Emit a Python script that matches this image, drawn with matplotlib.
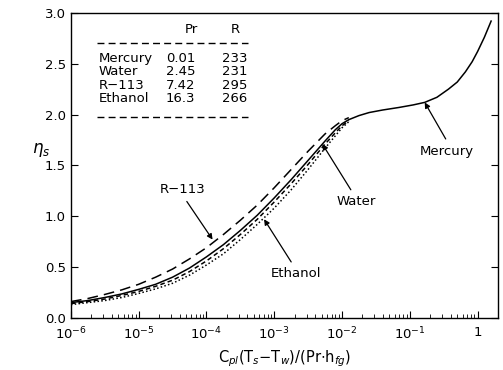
import numpy as np
import matplotlib
matplotlib.use("Agg")
import matplotlib.pyplot as plt

# data (log10 of abscissa, eta_s)
logx_common = [-6.0, -5.75, -5.5, -5.25, -5.0, -4.75, -4.5, -4.25, -4.0, -3.75,
               -3.5, -3.25, -3.0, -2.75, -2.5, -2.25, -2.1, -2.0, -1.9]
mercury_logx = [-6.0, -5.75, -5.5, -5.25, -5.0, -4.75, -4.5, -4.25, -4.0, -3.75,
                -3.5, -3.25, -3.0, -2.75, -2.5, -2.25, -2.1, -2.0, -1.9, -1.75,
                -1.6, -1.4, -1.16, -0.95, -0.78, -0.6, -0.43, -0.3, -0.18, -0.08,
                0.0, 0.1, 0.2]
mercury_eta = [0.15, 0.17, 0.20, 0.235, 0.28, 0.33, 0.40, 0.49, 0.60, 0.72,
               0.86, 1.01, 1.18, 1.36, 1.55, 1.74, 1.85, 1.91, 1.95, 1.99,
               2.02, 2.045, 2.07, 2.095, 2.12, 2.17, 2.25, 2.32, 2.42, 2.52,
               2.62, 2.76, 2.92]
r113_eta = [0.16, 0.19, 0.23, 0.275, 0.33, 0.40, 0.48, 0.58, 0.69, 0.82,
            0.96, 1.11, 1.28, 1.46, 1.64, 1.81, 1.89, 1.94, 1.97]
water_eta = [0.14, 0.16, 0.185, 0.22, 0.26, 0.31, 0.37, 0.455, 0.56, 0.68,
             0.82, 0.97, 1.14, 1.32, 1.51, 1.71, 1.82, 1.89, 1.94]
ethanol_eta = [0.13, 0.15, 0.17, 0.20, 0.24, 0.285, 0.34, 0.42, 0.52, 0.63,
               0.77, 0.92, 1.08, 1.26, 1.46, 1.67, 1.79, 1.87, 1.93]

fluids = ["Mercury", "Water", "R\u2212113", "Ethanol"]
pr_vals = ["0.01", "2.45", "7.42", "16.3"]
r_vals = ["233", "231", "295", "266"]

xtick_vals = [1e-6, 1e-5, 1e-4, 1e-3, 1e-2, 1e-1, 1]
xtick_labels = [r"10$^{-6}$", r"10$^{-5}$", r"10$^{-4}$", r"10$^{-3}$",
                r"10$^{-2}$", r"10$^{-1}$", "1"]

plt.rcParams['font.family'] = ['DejaVu Sans']
fig = plt.figure(figsize=(5.03, 3.70), dpi=100)
ax = fig.add_axes([0.141, 0.141, 0.849, 0.824])

ax.plot(10 ** np.array(mercury_logx), mercury_eta, color='black', lw=1.1, ls='-')
ax.plot(10 ** np.array(logx_common), r113_eta, color='black', lw=1.1, ls=(0, (7, 4)))
ax.plot(10 ** np.array(logx_common), water_eta, color='black', lw=1.1, ls=(0, (3, 2)))
ax.plot(10 ** np.array(logx_common), ethanol_eta, color='black', lw=1.1, ls=(0, (1, 1.5)))

ax.set_xscale('log')
ax.set_xlim(1e-6, 2.0)
ax.set_ylim(0, 3.0)
ax.set_xticks(xtick_vals)
ax.set_xticklabels(xtick_labels)
ax.set_yticks(np.arange(0, 3.01, 0.5))
ax.set_yticklabels([f"{v:.1f}" for v in np.arange(0, 3.01, 0.5)])
ax.tick_params(direction='in', which='both', top=False, right=True, labelsize=9.5)
ax.tick_params(which='major', length=5)
ax.tick_params(which='minor', length=3)
ax.tick_params(axis='x', pad=6)
for s in ax.spines.values():
    s.set_linewidth(1.0)

ax.set_xlabel(r"C$_{pl}$(T$_s$$-$T$_w$)/(Pr$\cdot$h$_{fg}$)", fontsize=10.5)
ax.set_ylabel(r"$\eta_s$", fontsize=12, rotation=0, labelpad=14)
ax.yaxis.set_label_coords(-0.07, 0.52)

# table
def fx(px):
    return (px - 71) / 427.0
def fy(py):
    return (318 - py) / 305.0

fs = 9.5
ax.text(fx(191), fy(30), "Pr", transform=ax.transAxes, ha='center', va='center', fontsize=fs)
ax.text(fx(235), fy(30), "R", transform=ax.transAxes, ha='center', va='center', fontsize=fs)
ax.plot([fx(97), fx(248)], [fy(43), fy(43)], transform=ax.transAxes, color='black',
        lw=1.0, ls=(0, (5, 3)))
ax.plot([fx(97), fx(248)], [fy(117), fy(117)], transform=ax.transAxes, color='black',
        lw=1.0, ls=(0, (5, 3)))
row_y = [59, 72, 86, 99]
for name, pr, r, yy in zip(fluids, pr_vals, r_vals, row_y):
    ax.text(fx(99), fy(yy), name, transform=ax.transAxes, ha='left', va='center', fontsize=fs)
    ax.text(fx(166), fy(yy), pr, transform=ax.transAxes, ha='left', va='center', fontsize=fs)
    ax.text(fx(222), fy(yy), r, transform=ax.transAxes, ha='left', va='center', fontsize=fs)

arrow = dict(arrowstyle='-|>', color='black', lw=0.9, mutation_scale=8, shrinkA=0, shrinkB=0)
ax.annotate("", xy=(10 ** -0.78, 2.12), xytext=(10 ** -0.47, 1.76), arrowprops=arrow)
ax.text(10 ** -0.456, 1.64, "Mercury", ha='center', va='center', fontsize=fs)
ax.annotate("", xy=(10 ** -2.29, 1.71), xytext=(10 ** -1.87, 1.26), arrowprops=arrow)
ax.text(10 ** -1.79, 1.145, "Water", ha='center', va='center', fontsize=fs)
ax.annotate("", xy=(10 ** -3.15, 0.97), xytext=(10 ** -2.75, 0.55), arrowprops=arrow)
ax.text(10 ** -2.68, 0.44, "Ethanol", ha='center', va='center', fontsize=fs)
ax.annotate("", xy=(10 ** -3.91, 0.77), xytext=(10 ** -4.29, 1.145), arrowprops=arrow)
ax.text(10 ** -4.35, 1.26, "R\u2212113", ha='center', va='center', fontsize=fs)

fig.savefig("out.png", dpi=100)
